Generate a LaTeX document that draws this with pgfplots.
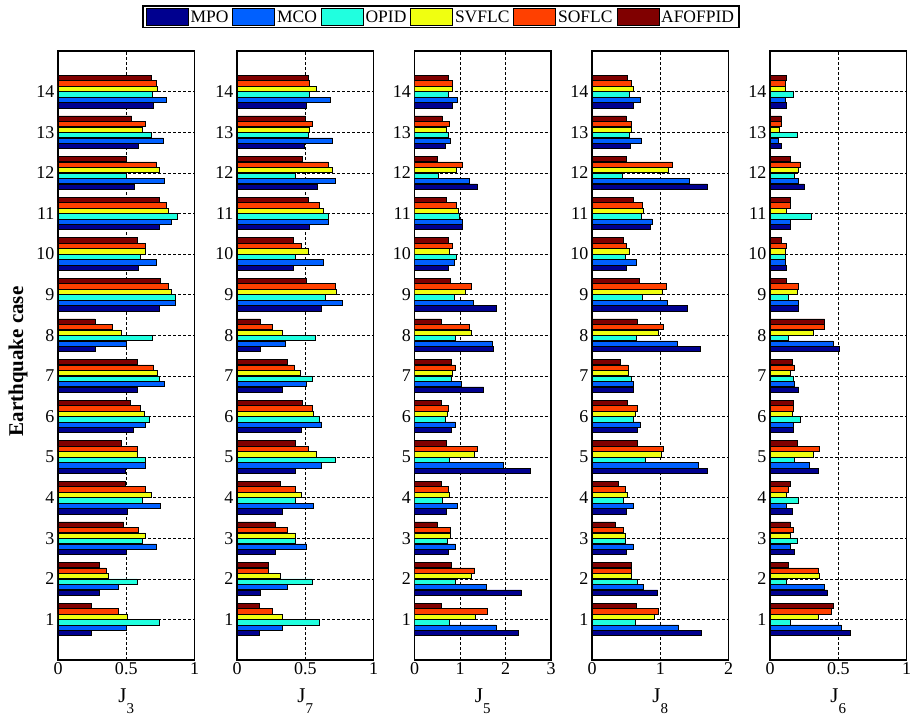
\documentclass[border=0pt]{standalone}
\usepackage{pgfplots}
\usepackage{pgfplotstable}
\pgfplotsset{compat=1.18}
\usepackage{fontspec}
\setmainfont{Liberation Serif}

\definecolor{cMPO}{RGB}{0,0,143}
\definecolor{cMCO}{RGB}{0,96,255}
\definecolor{cOPID}{RGB}{32,255,223}
\definecolor{cSV}{RGB}{240,255,16}
\definecolor{cSO}{RGB}{255,64,0}
\definecolor{cAF}{RGB}{128,0,0}

% columns: case mpo mco opid svflc soflc afofpid
\pgfplotstableread{
case mpo mco opid sv so af
1 0.24 0.50 0.74 0.51 0.44 0.24
2 0.30 0.44 0.58 0.37 0.35 0.30
3 0.50 0.72 0.62 0.64 0.59 0.48
4 0.51 0.75 0.62 0.68 0.64 0.49
5 0.49 0.64 0.64 0.58 0.58 0.46
6 0.55 0.64 0.67 0.63 0.60 0.53
7 0.58 0.78 0.74 0.73 0.70 0.58
8 0.27 0.50 0.69 0.46 0.40 0.27
9 0.74 0.86 0.86 0.83 0.81 0.75
10 0.59 0.72 0.60 0.64 0.64 0.58
11 0.74 0.83 0.87 0.81 0.79 0.74
12 0.56 0.78 0.50 0.74 0.72 0.50
13 0.59 0.77 0.68 0.62 0.64 0.54
14 0.70 0.79 0.69 0.73 0.72 0.68
}\tJthree

\pgfplotstableread{
case mpo mco opid sv so af
1 0.16 0.33 0.60 0.33 0.26 0.16
2 0.17 0.37 0.55 0.32 0.23 0.23
3 0.28 0.51 0.43 0.43 0.37 0.28
4 0.33 0.56 0.43 0.47 0.43 0.32
5 0.43 0.62 0.72 0.58 0.52 0.43
6 0.47 0.62 0.60 0.56 0.55 0.48
7 0.33 0.51 0.55 0.46 0.42 0.37
8 0.17 0.35 0.57 0.33 0.26 0.17
9 0.62 0.77 0.65 0.73 0.72 0.51
10 0.41 0.63 0.43 0.52 0.47 0.41
11 0.53 0.67 0.67 0.63 0.60 0.52
12 0.59 0.72 0.43 0.70 0.67 0.48
13 0.49 0.70 0.52 0.53 0.55 0.50
14 0.51 0.68 0.53 0.58 0.53 0.52
}\tJseven

\pgfplotstableread{
case mpo mco opid sv so af
1 2.29 1.79 0.77 1.33 1.59 0.58
2 2.35 1.57 0.90 1.24 1.32 0.80
3 0.75 0.90 0.72 0.79 0.79 0.50
4 0.70 0.95 0.62 0.77 0.75 0.58
5 2.55 1.95 0.77 1.32 1.37 0.70
6 0.80 0.90 0.67 0.72 0.75 0.58
7 1.52 1.02 0.80 0.84 0.90 0.80
8 1.73 1.70 0.90 1.24 1.20 0.58
9 1.80 1.30 0.87 1.12 1.24 0.78
10 0.75 0.87 0.92 0.77 0.84 0.75
11 1.04 1.04 0.99 0.97 0.92 0.70
12 1.38 1.20 0.53 0.92 1.04 0.50
13 0.67 0.79 0.75 0.70 0.77 0.60
14 0.84 0.95 0.75 0.82 0.84 0.75
}\tJfive

\pgfplotstableread{
case mpo mco opid sv so af
1 1.60 1.27 0.64 0.91 0.97 0.65
2 0.96 0.75 0.66 0.58 0.58 0.57
3 0.50 0.60 0.48 0.49 0.46 0.34
4 0.50 0.60 0.46 0.51 0.49 0.39
5 1.69 1.55 0.78 1.01 1.04 0.66
6 0.66 0.70 0.61 0.63 0.66 0.51
7 0.60 0.61 0.57 0.53 0.53 0.42
8 1.59 1.25 0.65 0.97 1.04 0.66
9 1.40 1.10 0.73 1.03 1.09 0.69
10 0.50 0.65 0.48 0.55 0.50 0.46
11 0.85 0.88 0.72 0.75 0.73 0.61
12 1.69 1.43 0.45 1.12 1.18 0.50
13 0.56 0.72 0.55 0.57 0.57 0.50
14 0.60 0.70 0.55 0.61 0.57 0.51
}\tJeight

\pgfplotstableread{
case mpo mco opid sv so af
1 0.59 0.52 0.15 0.35 0.45 0.46
2 0.42 0.40 0.12 0.36 0.35 0.13
3 0.18 0.15 0.20 0.15 0.17 0.15
4 0.16 0.12 0.21 0.12 0.13 0.15
5 0.35 0.29 0.18 0.32 0.36 0.20
6 0.17 0.17 0.22 0.16 0.17 0.17
7 0.21 0.18 0.17 0.15 0.18 0.16
8 0.51 0.46 0.13 0.32 0.40 0.40
9 0.21 0.21 0.13 0.20 0.21 0.12
10 0.12 0.11 0.11 0.11 0.12 0.08
11 0.15 0.15 0.30 0.12 0.15 0.15
12 0.25 0.21 0.18 0.21 0.22 0.15
13 0.08 0.06 0.20 0.07 0.08 0.08
14 0.12 0.11 0.17 0.11 0.11 0.12
}\tJsix

\pgfplotsset{
  panel/.style={
    scale only axis,
    width=136.5pt, height=609pt,
    anchor=south west,
    xbar, bar width=0.13,
    ymin=0, ymax=15,
    xmin=0,
    ytick={1,...,14},
    grid=major,
    major grid style={black, line width=0.5pt, dash pattern=on 3pt off 2pt},
    major tick length=0pt,
    axis line style={black, line width=1.1pt},
    tick label style={font=\fontsize{18}{20}\selectfont},
    /pgf/number format/assume math mode=true,
    xticklabel style={yshift=1pt},
    yticklabel style={xshift=0pt},
    xlabel style={font=\fontsize{21}{23}\selectfont, yshift=-7pt},
    every axis plot/.append style={draw=black, line width=0.5pt},
    legend image code/.code={\draw[#1, line width=0.6pt] (0pt,-8pt) rectangle (42pt,9pt);},
  },
}
\newcommand{\sixbars}[1]{%
  \addplot[fill=cMPO, bar shift=-0.3375] table[x=mpo,y=case]{#1};
  \addplot[fill=cMCO, bar shift=-0.2025] table[x=mco,y=case]{#1};
  \addplot[fill=cOPID, bar shift=-0.0675] table[x=opid,y=case]{#1};
  \addplot[fill=cSV, bar shift=0.0675] table[x=sv,y=case]{#1};
  \addplot[fill=cSO, bar shift=0.2025] table[x=so,y=case]{#1};
  \addplot[fill=cAF, bar shift=0.3375] table[x=af,y=case]{#1};
}
\newcommand{\Jlab}[1]{J\raisebox{-11pt}{\fontsize{15}{16}\selectfont #1}}

\begin{document}
\begin{tikzpicture}
\useasboundingbox (0,0) rectangle (912pt,722pt);
\begin{axis}[panel, at={(58pt,62pt)}, xmax=1, xtick={0,0.5,1},
  xlabel={\Jlab{3}},
  ylabel={\bfseries Earthquake case},
  ylabel style={font=\fontsize{21}{23}\selectfont, yshift=2pt, xshift=-6pt},
  legend columns=6,
  legend style={at={(axis description cs:2.806,1.056)}, anchor=center,
    draw=black, line width=1.2pt, font=\fontsize{17.5}{20}\selectfont,
    /tikz/every odd column/.append style={column sep=0pt},
    /tikz/every even column/.append style={column sep=2pt},
    inner xsep=3pt, inner ysep=2pt},
  ]
\sixbars{\tJthree}
\legend{MPO,MCO,OPID,SVFLC,SOFLC,AFOFPID}
\end{axis}
\begin{axis}[panel, at={(237pt,62pt)}, xmax=1, xtick={0,0.5,1},
  xlabel={\Jlab{7}}]
\sixbars{\tJseven}
\end{axis}
\begin{axis}[panel, at={(414.5pt,62pt)}, xmax=3, xtick={0,1,2,3},
  xlabel={\Jlab{5}}]
\sixbars{\tJfive}
\end{axis}
\begin{axis}[panel, at={(592pt,62pt)}, xmax=2, xtick={0,1,2},
  xlabel={\Jlab{8}}]
\sixbars{\tJeight}
\end{axis}
\begin{axis}[panel, at={(770pt,62pt)}, xmax=1, xtick={0,0.5,1},
  xlabel={\Jlab{6}}]
\sixbars{\tJsix}
\end{axis}
\end{tikzpicture}
\end{document}
